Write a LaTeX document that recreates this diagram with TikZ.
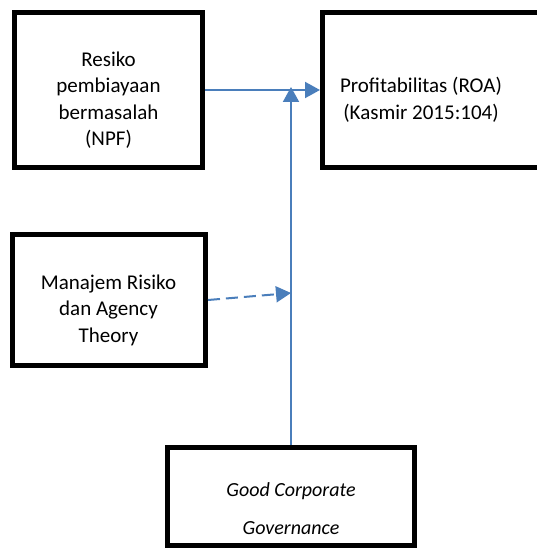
\documentclass[tikz,border=0pt]{standalone}
\usepackage{fontspec}
\setmainfont{Carlito}
\usetikzlibrary{arrows.meta,positioning}
\definecolor{garisbiru}{HTML}{4A7EBB}

\begin{document}
\begin{tikzpicture}[x=1pt,y=-1pt,
    kotak/.style 2 args={draw=black, line width=5pt, minimum width=#1, minimum height=#2, inner sep=0pt},
    teks/.style={align=center, font=\fontsize{21}{26.5}\selectfont},
    panah/.style={draw=garisbiru, line width=2pt, -{Triangle[length=15pt,width=16pt]}}]
            \path[use as bounding box, clip] (0,0) rectangle (537,548);
            % kotak variabel
            \node[kotak={188pt}{155pt}] (npf) at (108.5,90) {};
            \node[kotak={225pt}{155pt}] (roa) at (435,90) {};
            \node[kotak={193pt}{131pt}] (mrat) at (109,300) {};
            \node[kotak={247pt}{98pt}] (gcg) at (291,496.5) {};
            \node[teks] (npft) at (108.5,100) {Resiko\\pembiayaan\\bermasalah\\(NPF)};
            \node[teks] (roat) at (421,100) {Profitabilitas (ROA)\\(Kasmir 2015:104)};
            \node[teks] (mratt) at (108.5,310) {Manajem Risiko\\dan Agency\\Theory};
            \node[teks, font=\fontsize{20}{38}\selectfont\itshape] (gcgt) at (291,509) {Good Corporate\\Governance};
            % panah
            \coordinate (temu) at (291,87);
            \coordinate (temu2) at (291,293);
            \draw[panah] (npf.east) -- (roa.west);
            \draw[panah] (gcg.north) -- (temu);
            \draw[panah, dash pattern=on 12pt off 6pt] (mrat.east) -- (temu2);
\end{tikzpicture}
\end{document}
